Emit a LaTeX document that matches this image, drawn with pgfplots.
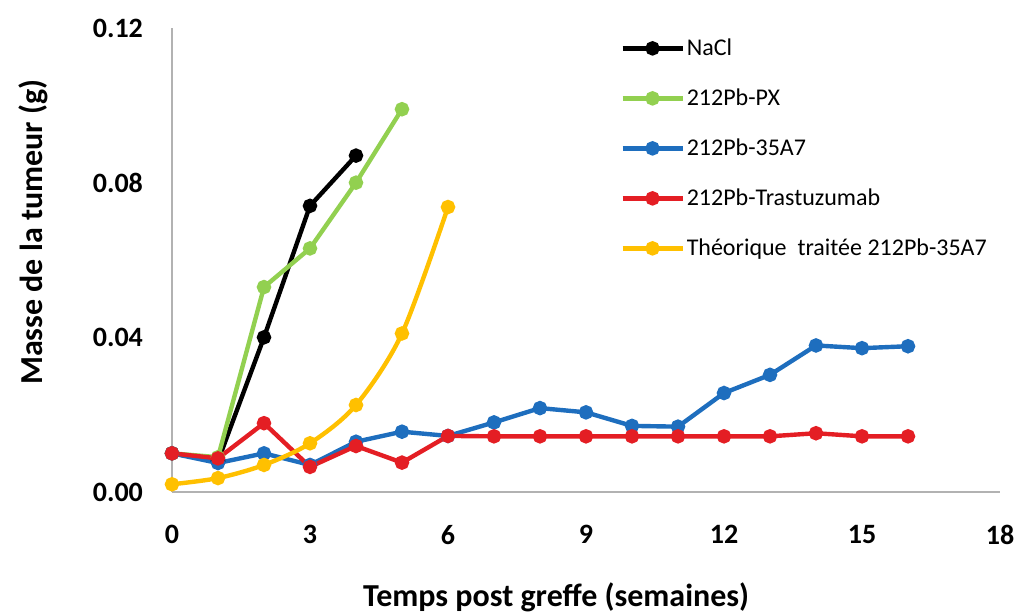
\documentclass[border=0pt]{standalone}
\usepackage{fontspec}
\setmainfont{Carlito}
\usepackage{pgfplots}
\pgfplotsset{compat=1.18}

\definecolor{cNaCl}{RGB}{0,0,0}
\definecolor{cPX}{RGB}{146,208,80}
\definecolor{cA7}{RGB}{30,110,190}
\definecolor{cTra}{RGB}{228,30,36}
\definecolor{cTheo}{RGB}{255,192,0}

\begin{document}
\begin{tikzpicture}
\begin{axis}[
    name=ax,
    scale only axis=true,
    width=414pt, height=232pt,
    xmin=0, xmax=18, ymin=0, ymax=0.12,
    xtick={0,3,...,18},
    ytick={0,0.04,0.08,0.12},
    axis x line=bottom, axis y line=left,
    axis line style={draw=black!30, line width=1pt, -},
    major tick length=0pt,
    /pgf/number format/assume math mode=true,
    yticklabel style={/pgf/number format/fixed,/pgf/number format/fixed zerofill,
        /pgf/number format/precision=2, font=\fontsize{14}{16}\selectfont\bfseries, xshift=-11pt},
    xticklabel style={font=\fontsize{14}{16}\selectfont\bfseries, yshift=-13pt},
    scaled y ticks=false,
    xlabel={Temps post greffe (semaines)},
    ylabel={Masse de la tumeur (g)},
    xlabel style={at={(rel axis cs:0.464,-0.226)}, anchor=center, font=\fontsize{16}{19}\selectfont\bfseries},
    ylabel style={at={(rel axis cs:-0.168,0.56)}, anchor=center, font=\fontsize{16}{19}\selectfont\bfseries},
    every axis plot/.append style={line width=2.2pt, mark=*, mark size=2.5pt},
    legend style={at={(rel axis cs:0.541,0.985)}, anchor=north west, draw=none, fill=none,
        inner sep=0pt, row sep=12pt, font=\fontsize{12}{14}\selectfont,
        nodes={inner sep=1pt, text height=9pt, text depth=2pt}},
    legend cell align=left,
    legend image code/.code={\draw[mark repeat=2,mark phase=2] plot coordinates {(0pt,0pt) (15pt,0pt) (30pt,0pt)};},
    clip=false,
]
\addplot[color=cNaCl, mark options={fill=cNaCl}] coordinates {
    (0,0.010) (1,0.008) (2,0.040) (3,0.074) (4,0.087)};
\addlegendentry{NaCl}
\addplot[color=cPX, mark options={fill=cPX}] coordinates {
    (0,0.010) (1,0.009) (2,0.053) (3,0.063) (4,0.080) (5,0.099)};
\addlegendentry{212Pb-PX}
\addplot[color=cA7, mark options={fill=cA7}] coordinates {
    (0,0.010) (1,0.0075) (2,0.010) (3,0.007) (4,0.013) (5,0.0156) (6,0.0145)
    (7,0.018) (8,0.0217) (9,0.0206) (10,0.0171) (11,0.0169) (12,0.0256)
    (13,0.0303) (14,0.0379) (15,0.0372) (16,0.0377)};
\addlegendentry{212Pb-35A7}
\addplot[color=cTra, mark options={fill=cTra}] coordinates {
    (0,0.010) (1,0.0087) (2,0.0178) (3,0.0065) (4,0.0119) (5,0.0076) (6,0.0145)
    (7,0.0144) (8,0.0144) (9,0.0144) (10,0.0144) (11,0.0144) (12,0.0144)
    (13,0.0144) (14,0.0152) (15,0.0144) (16,0.0144)};
\addlegendentry{212Pb-Trastuzumab}
\addplot[color=cTheo, mark options={fill=cTheo}, smooth] coordinates {
    (0,0.002) (1,0.0036) (2,0.007) (3,0.0126) (4,0.0225) (5,0.041) (6,0.0737)};
\addlegendentry{Théorique~ traitée 212Pb-35A7}
\end{axis}
\pgfresetboundingbox
\path (ax.south west) ++(-86pt,-60pt) rectangle ([shift={(422.5pt,246pt)}]ax.south west);
\end{tikzpicture}
\end{document}
